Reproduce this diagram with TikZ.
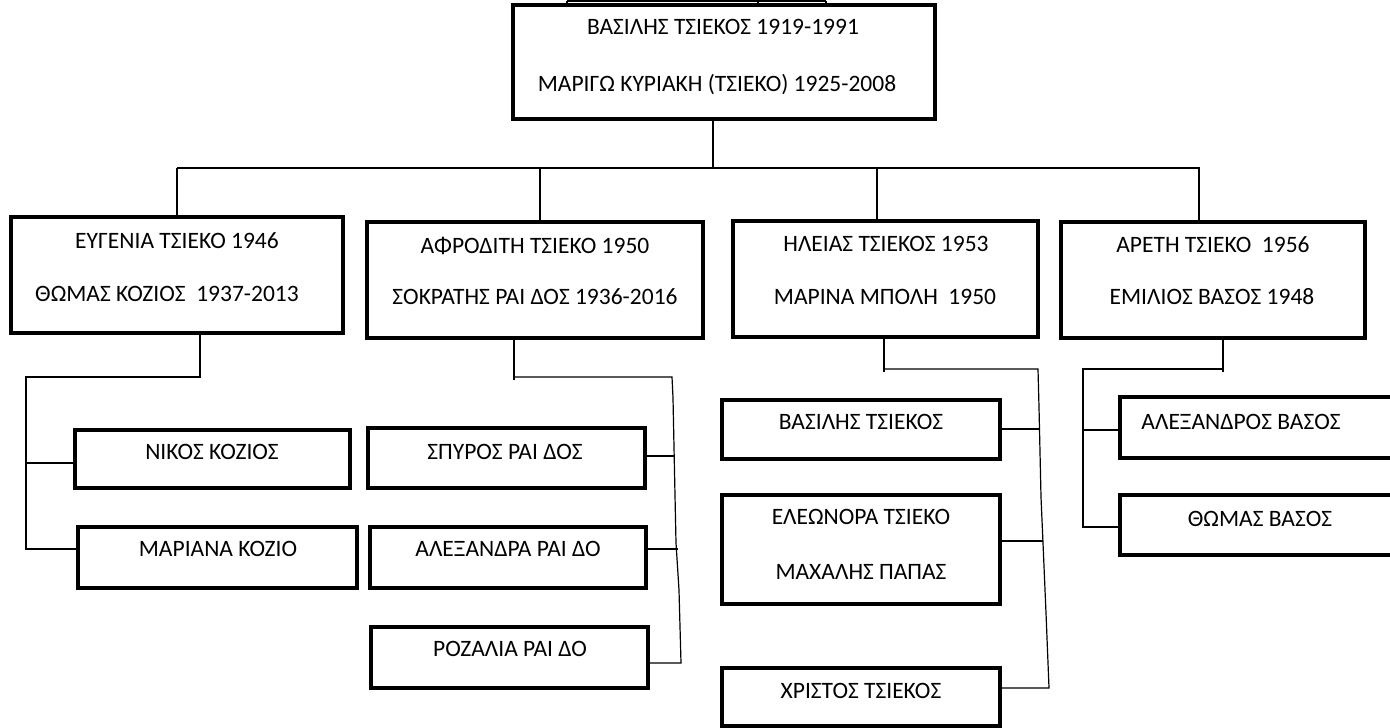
\documentclass[tikz,border=0pt]{standalone}
\usepackage{fontspec}
\setmainfont{Carlito}
\begin{document}
\begin{tikzpicture}[x=1pt,y=-1pt,
  box/.style={draw=black, line width=3.8pt, inner sep=0pt, fill=none},
  txt/.style={inner sep=0pt, font=\fontsize{23.5}{27}\selectfont, text height=0.63em, text depth=0pt, yshift=-3.5pt},
  conn/.style={draw=black, line width=1.2pt},
  busline/.style={draw=black, line width=2.2pt}]
\useasboundingbox (0,0) rectangle (1390,728);
\fill[white] (0,0) rectangle (1390,728);
\clip (0,0) rectangle (1390,728);

% ---- boxes ----
\node[box, minimum width=422, minimum height=114] (top) at (724,62) {};
\node[box, minimum width=332, minimum height=116] (eug) at (177,275) {};
\node[box, minimum width=336, minimum height=116] (afr) at (535,280) {};
\node[box, minimum width=305, minimum height=116] (ili) at (885.5,279) {};
\node[box, minimum width=304, minimum height=116] (are) at (1213,280) {};

\node[box, minimum width=275, minimum height=58] (nik) at (212.5,459) {};
\node[box, minimum width=279, minimum height=61] (mar) at (217.5,557.5) {};

\node[box, minimum width=277, minimum height=60] (spy) at (506.5,458) {};
\node[box, minimum width=276, minimum height=61] (ale) at (508,557.5) {};
\node[box, minimum width=277, minimum height=61] (roz) at (509.5,657.5) {};

\node[box, minimum width=278, minimum height=59] (vas) at (861,429.5) {};
\node[box, minimum width=278, minimum height=109] (ele) at (861,549.5) {};
\node[box, minimum width=278, minimum height=58] (chr) at (861,697) {};

\node[box, minimum width=280, minimum height=61] (alx) at (1260,427.5) {};
\node[box, minimum width=280, minimum height=60] (tho) at (1260,525) {};

% ---- texts ----
\node[txt] (topA) at (723,28) {ΒΑΣΙΛΗΣ ΤΣΙΕΚΟΣ 1919-1991};
\node[txt] (topB) at (717,85) {ΜΑΡΙΓΩ ΚΥΡΙΑΚΗ (ΤΣΙΕΚΟ) 1925-2008};
\node[txt] (eugA) at (177,242) {ΕΥΓΕΝΙΑ ΤΣΙΕΚΟ 1946};
\node[txt] (eugB) at (167,295) {ΘΩΜΑΣ ΚΟΖΙΟΣ \ 1937-2013};
\node[txt] (afrA) at (535,247) {ΑΦΡΟΔΙΤΗ ΤΣΙΕΚΟ 1950};
\node[txt] (afrB) at (535,298) {ΣΟΚΡΑΤΗΣ ΡΑΙ ΔΟΣ 1936-2016};
\node[txt] (iliA) at (886,245) {ΗΛΕΙΑΣ ΤΣΙΕΚΟΣ 1953};
\node[txt] (iliB) at (885,298) {ΜΑΡΙΝΑ ΜΠΟΛΗ \ 1950};
\node[txt] (areA) at (1213,246) {ΑΡΕΤΗ ΤΣΙΕΚΟ \ 1956};
\node[txt] (areB) at (1212,298) {ΕΜΙΛΙΟΣ ΒΑΣΟΣ 1948};
\node[txt] (nikA) at (212,453) {ΝΙΚΟΣ ΚΟΖΙΟΣ};
\node[txt] (marA) at (218,550) {ΜΑΡΙΑΝΑ ΚΟΖΙΟ};
\node[txt] (spyA) at (505,453) {ΣΠΥΡΟΣ ΡΑΙ ΔΟΣ};
\node[txt] (aleA) at (508,550) {ΑΛΕΞΑΝΔΡΑ ΡΑΙ ΔΟ};
\node[txt] (rozA) at (510,650) {ΡΟΖΑΛΙΑ ΡΑΙ ΔΟ};
\node[txt] (vasA) at (861,423) {ΒΑΣΙΛΗΣ ΤΣΙΕΚΟΣ};
\node[txt] (eleA) at (861,518) {ΕΛΕΩΝΟΡΑ ΤΣΙΕΚΟ};
\node[txt] (eleB) at (861,573) {ΜΑΧΑΛΗΣ ΠΑΠΑΣ};
\node[txt] (chrA) at (861,692) {ΧΡΙΣΤΟΣ ΤΣΙΕΚΟΣ};
\node[txt] (alxA) at (1241,423) {ΑΛΕΞΑΝΔΡΟΣ ΒΑΣΟΣ};
\node[txt] (thoA) at (1260,520) {ΘΩΜΑΣ ΒΑΣΟΣ};

% ---- junction points ----
\coordinate (up1) at (567,1);
\coordinate (up2) at (758,1);
\coordinate (up3) at (826,1);
\coordinate (jt) at (713,168);
\coordinate (bL) at (177,168);
\coordinate (bR) at (1200,168);
\coordinate (d2) at (540,168);
\coordinate (d3) at (877,168);
\coordinate (d4) at (1199,168);

\coordinate (e1) at (200,377);
\coordinate (e2) at (26,377);
\coordinate (eN) at (26,463);
\coordinate (eM) at (26,549);

\coordinate (a1) at (514,377);
\coordinate (a2) at (672,377);
\coordinate (aS) at (674,456);
\coordinate (aA) at (678,549);
\coordinate (aR) at (681,663);

\coordinate (i1) at (884,369);
\coordinate (i2) at (1038,369);
\coordinate (iV) at (1040,429);
\coordinate (iE) at (1043,541);
\coordinate (iC) at (1049,688);

\coordinate (r1) at (1223,369);
\coordinate (r2) at (1083,369);
\coordinate (rA) at (1083,430);
\coordinate (rT) at (1083,527);

% ---- connectors ----
% edge of the tree above the root couple
\draw[busline] (up1) -- (up3);
\draw[conn] (up1) -- (top.north -| up1);
\draw[conn] (up2) -- (top.north -| up2);
\draw[conn] (up3) -- (top.north -| up3);

% root to the four children
\draw[conn] (top.south -| jt) -- (jt);
\draw[busline] (bL) -- (bR);
\draw[conn] (bL) -- (eug.north -| bL);
\draw[conn] (d2) -- (afr.north -| d2);
\draw[conn] (d3) -- (ili.north -| d3);
\draw[conn] (d4) -- (are.north -| d4);

% Eugenia's children
\draw[conn] (eug.south -| e1) -- (e1) -- (e2) -- (eM) -- (mar.west |- eM);
\draw[conn] (eN) -- (nik.west |- eN);

% Afroditi's children
\draw[conn] (afr.south -| a1) -- ([yshift=-3]a1);
\draw[conn] (a1) -- (a2) -- (673,398) -- (674,447) -- (676,543) -- (679,590) -- (aR) -- (roz.east |- aR);
\draw[conn] (aS) -- (spy.east |- aS);
\draw[conn] (aA) -- (ale.east |- aA);

% Ilias's children
\draw[conn] (ili.south -| i1) -- ([yshift=-3]i1);
\draw[conn] (i1) -- (i2) -- (1039,407) -- (1041,497) -- (1043,543) -- (1046,613) -- (iC) -- (chr.east |- iC);
\draw[conn] (vas.east |- iV) -- (iV);
\draw[conn] (ele.east |- iE) -- (iE);

% Areti's children
\draw[conn] (are.south -| r1) -- ([yshift=-3]r1);
\draw[conn] (r1) -- (r2) -- (rT) -- (tho.west |- rT);
\draw[conn] ([xshift=-1]rA) -- (alx.west |- rA);
\end{tikzpicture}
\end{document}
